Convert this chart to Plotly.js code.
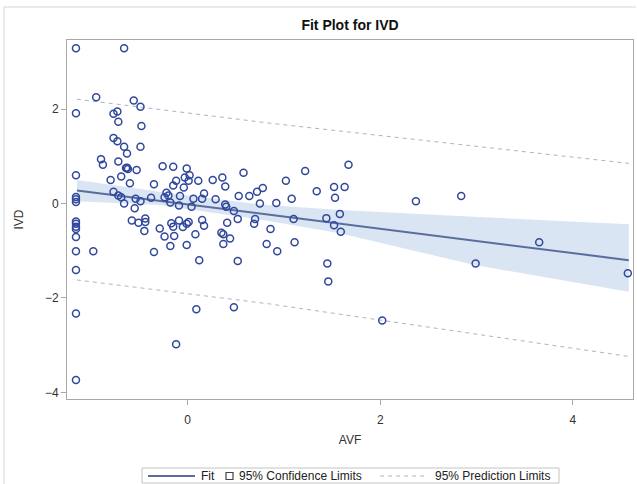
<!DOCTYPE html>
<html>
<head>
<meta charset="utf-8">
<script src="https://cdn.plot.ly/plotly-3.0.1.min.js"></script>
<style>html,body{margin:0;padding:0;background:#fff;}#chart{width:637px;height:484px;}</style>
</head>
<body>
<div id="chart"></div>
<script>
// Observations (AVF, IVD)
const avf = [
  -1.16,-1.16,-1.16,-1.16,-1.16,-1.16,-1.16,-1.16,-1.16,-1.16,-1.16,-1.16,-1.16,-1.16,-1.16,
  -0.66,-0.95,-0.56,-0.49,-0.77,-0.73,-0.72,-0.48,-0.77,-0.73,-0.66,-0.49,-0.63,-0.90,-0.88,
  -0.72,-0.63,-0.62,-0.64,-0.53,-0.26,-0.15,-0.01,-0.80,-0.69,-0.60,-0.35,-0.12,-0.15,-0.04,
  -0.03,0.02,0.01,0.11,0.26,0.36,0.39,0.58,1.02,1.22,-0.22,-0.20,-0.18,-0.24,-0.08,-0.09,
  0.17,0.15,0.06,0.04,0.29,0.39,0.40,0.53,0.64,0.72,0.78,0.75,0.92,1.08,-0.77,-0.72,-0.69,
  -0.66,-0.54,-0.49,-0.55,-0.38,0.48,0.52,0.70,1.10,-0.58,-0.51,-0.44,-0.44,-0.45,-0.29,
  -0.24,-0.18,-0.17,-0.15,-0.14,-0.09,-0.05,-0.01,0.01,0.15,0.17,0.08,-0.01,0.12,0.41,
  0.35,0.37,0.44,0.37,0.52,0.69,0.86,0.82,0.93,1.11,-0.98,-0.35,0.09,0.48,-0.12,1.34,1.52,
  1.63,1.53,1.58,1.44,1.52,1.59,1.45,1.46,1.67,2.02,2.37,2.84,2.99,3.65,4.57
];
const ivd = [
  3.29,1.91,0.60,0.14,0.09,0.03,-0.38,-0.43,-0.49,-0.54,-0.71,-1.01,-1.41,-2.33,-3.74,
  3.29,2.25,2.18,2.05,1.90,1.95,1.73,1.64,1.39,1.32,1.20,1.20,1.06,0.94,0.82,
  0.89,0.76,0.73,0.75,0.71,0.79,0.78,0.74,0.50,0.57,0.43,0.41,0.48,0.38,0.34,
  0.55,0.60,0.48,0.48,0.50,0.55,0.36,0.65,0.48,0.69,0.23,0.17,0.02,0.13,0.16,-0.04,
  0.21,0.10,0.10,-0.07,0.09,-0.02,-0.07,0.16,0.16,0.25,0.33,0.00,0.01,0.10,0.25,0.17,0.13,
  0.00,0.10,0.05,-0.10,0.12,-0.16,-0.33,-0.33,-0.33,-0.36,-0.41,-0.32,-0.39,-0.58,-0.53,
  -0.70,-0.90,-0.42,-0.49,-0.69,-0.36,-0.50,-0.43,-0.39,-0.35,-0.47,-0.65,-0.88,-1.20,-0.41,
  -0.62,-0.65,-0.74,-0.86,-1.22,-0.43,-0.54,-0.86,-1.01,-0.82,-1.01,-1.03,-2.24,-2.20,-2.98,0.26,0.35,
  0.35,0.12,-0.22,-0.31,-0.46,-0.60,-1.27,-1.65,0.82,-2.48,0.05,0.16,-1.27,-0.82,-1.48
];

// Fitted line
const fitX = [-1.15, 4.58];
const fitY = [0.275, -1.20];

// 95% confidence limits
const clmX = [-1.15, -0.29, 0.75, 1.58, 2.97, 4.58];
const clmUpper = [0.50, 0.25, -0.02, -0.14, -0.28, -0.44];
const clmLower = [0.05, -0.03, -0.34, -0.63, -1.30, -1.87];

// 95% prediction limits
const pliX = [-1.15, 0.86, 4.58];
const pliUpper = [2.21, 1.70, 0.85];
const pliLower = [-1.62, -2.13, -3.24];

const xTicks = [0, 2, 4];
const yTicks = [-4, -2, 0, 2];
const legendLabels = ['Fit', '95% Confidence Limits', '95% Prediction Limits'];

const markerColor = '#31479c';
const fitColor = '#5a6d9e';
const predColor = '#aeb2c6';
const FONT = 'Liberation Sans, Arial, sans-serif';

const traces = [
  {x: clmX.concat(clmX.slice().reverse()), y: clmUpper.concat(clmLower.slice().reverse()),
   type: 'scatter', mode: 'lines', fill: 'toself', fillcolor: 'rgba(185,207,231,0.55)',
   line: {width: 0, color: 'rgba(0,0,0,0)'}, hoverinfo: 'skip'},
  {x: pliX, y: pliUpper, type: 'scatter', mode: 'lines',
   line: {color: predColor, width: 1, dash: '4px,4px'}},
  {x: pliX, y: pliLower, type: 'scatter', mode: 'lines',
   line: {color: predColor, width: 1, dash: '4px,4px'}},
  {x: fitX, y: fitY, type: 'scatter', mode: 'lines',
   line: {color: fitColor, width: 2}},
  {x: avf, y: ivd, type: 'scatter', mode: 'markers',
   marker: {symbol: 'circle-open', size: 7, color: markerColor, line: {width: 1.5, color: markerColor}}}
];

const axisCommon = {
  showline: true, mirror: true, linecolor: '#a8a8a8', linewidth: 1,
  showgrid: false, zeroline: false, ticks: 'outside', ticklen: 5, tickcolor: '#a8a8a8',
  tickfont: {family: FONT, size: 12, color: '#333'}
};

// legend built in pixel geometry of the figure (plot area: x 67..633, y 40..399)
const px = v => (v - 67) / 566;
const py = v => (399 - v) / 359;

const shapes = [
  {type: 'line', xref: 'paper', yref: 'paper', x0: px(4), x1: px(636), y0: py(7), y1: py(7), line: {color: '#d6d6d6', width: 1}},
  {type: 'line', xref: 'paper', yref: 'paper', x0: px(4), x1: px(4), y0: py(7), y1: py(484), line: {color: '#d6d6d6', width: 1}},
  // legend frame
  {type: 'rect', xref: 'paper', yref: 'paper', x0: px(142), x1: px(559), y0: py(468), y1: py(483),
   line: {color: '#c4c4c4', width: 1}, fillcolor: '#fff'},
  // Fit sample
  {type: 'line', xref: 'paper', yref: 'paper', x0: px(148), x1: px(195), y0: py(476), y1: py(476),
   line: {color: fitColor, width: 2}},
  // confidence square
  {type: 'rect', xref: 'paper', yref: 'paper', x0: px(226), x1: px(233), y0: py(472.5), y1: py(479.5),
   line: {color: '#444', width: 1.2}, fillcolor: 'rgba(0,0,0,0)'},
  // prediction sample
  {type: 'line', xref: 'paper', yref: 'paper', x0: px(380), x1: px(427), y0: py(476), y1: py(476),
   line: {color: predColor, width: 1, dash: '4px,4px'}}
];

const annotations = [
  {text: legendLabels[0], x: px(199), y: py(476), xanchor: 'left'},
  {text: legendLabels[1], x: px(237), y: py(476), xanchor: 'left'},
  {text: legendLabels[2], x: px(433), y: py(476), xanchor: 'left'}
].map(a => Object.assign({xref: 'paper', yref: 'paper', yanchor: 'middle', showarrow: false,
  font: {family: FONT, size: 12, color: '#222'}}, a));

const layout = {
  width: 637, height: 484,
  margin: {l: 67, r: 4, t: 40, b: 85},
  paper_bgcolor: '#fff', plot_bgcolor: '#fff',
  font: {family: FONT, size: 12, color: '#333'},
  showlegend: false,
  title: {text: '<b>Fit Plot for IVD</b>', x: 0.5, xref: 'paper', xanchor: 'center',
          y: 1 - 25/484, yref: 'container', yanchor: 'middle',
          font: {family: FONT, size: 14, color: '#111'}},
  xaxis: Object.assign({}, axisCommon, {range: [-1.253, 4.624], tickvals: xTicks, ticklabelstandoff: 5,
          title: {text: 'AVF', standoff: 9, font: {family: FONT, size: 12, color: '#333'}}}),
  yaxis: Object.assign({}, axisCommon, {range: [-4.142, 3.464], tickvals: yTicks,
          title: {text: 'IVD', standoff: 18, font: {family: FONT, size: 12, color: '#333'}}}),
  shapes: shapes,
  annotations: annotations
};

Plotly.newPlot('chart', traces, layout, {displayModeBar: false, staticPlot: true});
</script>
</body>
</html>
